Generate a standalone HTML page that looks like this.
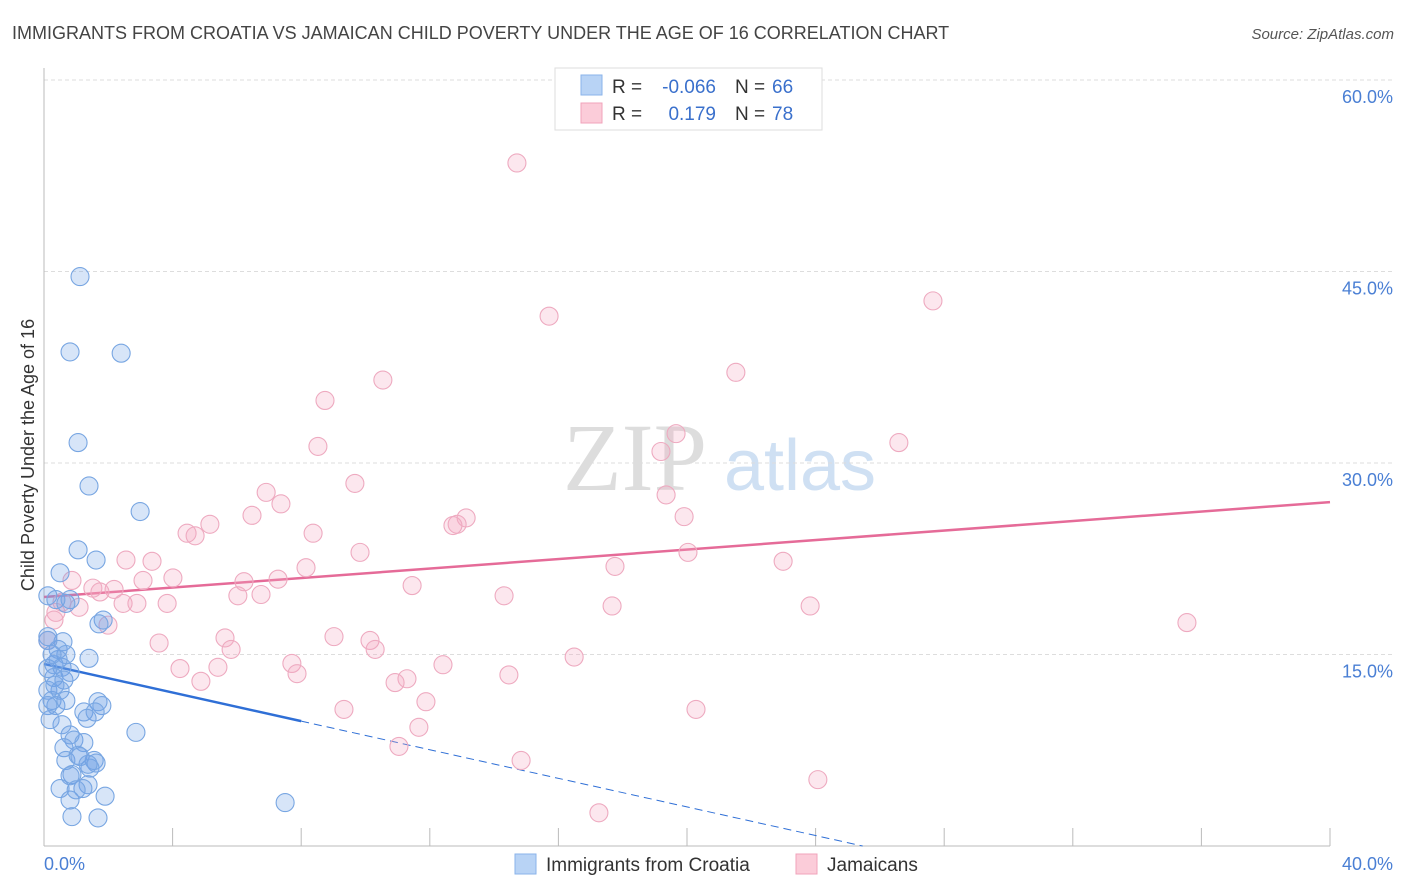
<!DOCTYPE html>
<html><head><meta charset="utf-8"><style>
body{margin:0;background:#fff;font-family:"Liberation Sans",sans-serif}
svg{display:block}
</style></head><body>
<svg id="c" width="1406" height="892" xmlns="http://www.w3.org/2000/svg">
<text x="12" y="39" font-size="18" fill="#444">IMMIGRANTS FROM CROATIA VS JAMAICAN CHILD POVERTY UNDER THE AGE OF 16 CORRELATION CHART</text>
<text x="1394" y="39" font-size="15" fill="#555" font-style="italic" text-anchor="end">Source: ZipAtlas.com</text>
<text transform="translate(34,455) rotate(-90)" font-size="18" fill="#333" text-anchor="middle">Child Poverty Under the Age of 16</text>
<g><text x="635" y="490" font-size="96" fill="#ddd" font-family="Liberation Serif" text-anchor="middle">ZIP</text><text x="800" y="490" font-size="72" fill="#cfe0f3" text-anchor="middle">atlas</text></g>
<g id="grid"></g><g id="axes"></g><g id="trend"></g><g id="pts"></g>
<g>
<rect x="555" y="68" width="267" height="62" fill="#fff" stroke="#ddd"/>
<rect x="581" y="75" width="21" height="20" fill="#b8d3f5" stroke="#8ab3ea"/>
<rect x="581" y="103" width="21" height="20" fill="#fbccd9" stroke="#f0a3bb"/>
<text x="612" y="93" font-size="19" fill="#333">R =</text>
<text x="716" y="93" font-size="19" fill="#3a70cc" text-anchor="end">-0.066</text>
<text x="735" y="93" font-size="19" fill="#333">N =</text>
<text x="772" y="93" font-size="19" fill="#3a70cc">66</text>
<text x="612" y="120" font-size="19" fill="#333">R =</text>
<text x="716" y="120" font-size="19" fill="#3a70cc" text-anchor="end">0.179</text>
<text x="735" y="120" font-size="19" fill="#333">N =</text>
<text x="772" y="120" font-size="19" fill="#3a70cc">78</text>
</g>
<g>
<rect x="515" y="854" width="21" height="20" fill="#b8d3f5" stroke="#8ab3ea"/>
<text x="546" y="871" font-size="19" fill="#333">Immigrants from Croatia</text>
<rect x="796" y="854" width="21" height="20" fill="#fbccd9" stroke="#f0a3bb"/>
<text x="827" y="871" font-size="19" fill="#333">Jamaicans</text>
</g>
</svg>
<script>
const yTicks=[15,30,45,60];
const yTickLabels=["15.0%","30.0%","45.0%","60.0%"];
const xTicks=[0,4,8,12,16,20,24,28,32,36,40];
const blueX=[1.12,0.81,2.40,1.06,1.40,2.99,1.06,1.62,0.50,0.12,0.81,0.37,0.68,1.84,1.71,0.59,0.12,0.44,0.68,1.40,0.31,0.56,0.81,0.12,0.31,0.62,0.12,0.50,0.25,0.37,0.12,1.68,1.80,1.24,1.59,1.34,2.86,0.56,0.81,0.93,0.62,1.24,0.68,1.06,1.56,1.62,1.43,0.87,0.81,1.37,1.21,0.50,1.90,0.81,0.87,1.68,7.50,0.12,0.34,0.19,1.12,0.68,0.44,1.37,1.00,0.25];
const blueY=[44.6,38.7,38.6,31.6,28.2,26.2,23.2,22.4,21.4,19.6,19.3,19.3,19.0,17.7,17.4,16.0,16.4,15.4,15.0,14.7,14.2,14.0,13.6,13.9,13.2,13.0,12.2,12.2,11.4,11.0,11.0,11.3,11.0,10.5,10.5,10.0,8.9,9.5,8.7,8.3,7.7,8.1,6.7,7.1,6.7,6.5,6.1,5.6,5.5,4.8,4.5,4.5,3.9,3.6,2.3,2.2,3.4,16.1,12.6,9.9,7.0,11.4,14.6,6.4,4.4,15.0];
const pinkX=[14.71,15.71,27.65,10.54,21.52,8.74,8.52,19.66,19.19,26.59,9.67,6.91,19.35,7.37,6.47,5.16,13.13,19.91,4.45,4.70,12.85,12.72,8.37,9.83,20.03,2.55,3.36,22.99,17.76,8.15,0.87,4.01,7.28,6.22,11.45,1.52,3.08,2.18,1.74,6.75,6.03,14.31,0.56,2.46,2.89,3.83,1.09,17.67,23.83,0.37,1.99,35.55,0.31,3.58,5.63,9.02,10.14,10.30,5.82,16.49,7.71,12.41,4.23,5.41,7.87,14.46,11.29,10.92,4.88,11.88,9.33,20.28,11.66,11.04,14.84,24.07,17.26,0.12];
const pinkY=[53.5,41.5,42.7,36.5,37.1,34.9,31.3,32.3,30.9,31.6,28.4,27.7,27.5,26.8,25.9,25.2,25.7,25.8,24.5,24.3,25.2,25.1,24.5,23.0,23.0,22.4,22.3,22.3,21.9,21.8,20.8,21.0,20.9,20.7,20.4,20.2,20.8,20.1,19.9,19.7,19.6,19.6,19.1,19.0,19.0,19.0,18.7,18.8,18.8,18.3,17.3,17.5,17.7,15.9,16.3,16.4,16.1,15.4,15.4,14.8,14.3,14.2,13.9,14.0,13.5,13.4,13.1,12.8,12.9,11.3,10.7,10.7,9.3,7.8,6.7,5.2,2.6,16.1];
const blueTrend=[14.26,-0.56]; // intercept, slope
const pinkTrend=[19.5,0.186];
const NS='http://www.w3.org/2000/svg';
const X=v=>44+v/40*1286, Y=v=>846-v/60*766;
function mk(p,t,a){const e=document.createElementNS(NS,t);for(const k in a)e.setAttribute(k,a[k]);p.appendChild(e);return e;}
const grid=document.getElementById('grid'),axes=document.getElementById('axes'),tr=document.getElementById('trend'),pts=document.getElementById('pts');
yTicks.forEach((t,i)=>{
 const l=mk(grid,'line',{x1:44,x2:1394,y1:Y(t),y2:Y(t),stroke:'#ddd','stroke-dasharray':'4,3'});
 
 
 const tx=mk(axes,'text',{x:1393,y:Y(t)+23,'font-size':18,fill:'#4a7fd4','text-anchor':'end'});
 tx.textContent=yTickLabels[i];
 
 
});
let a=mk(axes,'line',{x1:44,x2:44,y1:68,y2:846,stroke:'#bbb'});


a=mk(axes,'line',{x1:44,x2:1330,y1:846,y2:846,stroke:'#bbb'});


xTicks.forEach(t=>{const l=mk(axes,'line',{x1:X(t),x2:X(t),y1:828,y2:846,stroke:'#bbb'});
 
 });
let t0=mk(axes,'text',{x:44,y:870,'font-size':18,fill:'#4a7fd4'});t0.textContent='0.0%';


t0=mk(axes,'text',{x:1393,y:870,'font-size':18,fill:'#4a7fd4','text-anchor':'end'});t0.textContent='40.0%';


function dots(xs,ys,fill,stroke,name){xs.forEach((x,i)=>{const c=mk(pts,'circle',{cx:X(x),cy:Y(ys[i]),r:9,fill:fill,stroke:stroke,'stroke-width':1.1});
 
 });}
dots(pinkX,pinkY,'rgba(246,168,194,0.28)','#eeaac0','jamaican-point');
dots(blueX,blueY,'rgba(110,160,230,0.28)','#78a6e2','croatia-point');
const bY=x=>blueTrend[0]+blueTrend[1]*x, pY=x=>pinkTrend[0]+pinkTrend[1]*x;
let l=mk(tr,'line',{x1:X(0),y1:Y(bY(0)),x2:X(8),y2:Y(bY(8)),stroke:'#2f6fd6','stroke-width':2.5});


const xe=-blueTrend[0]/blueTrend[1];
l=mk(tr,'line',{x1:X(8),y1:Y(bY(8)),x2:X(xe),y2:Y(0),stroke:'#2f6fd6','stroke-width':1,'stroke-dasharray':'8,5'});


l=mk(tr,'line',{x1:X(0),y1:Y(pY(0)),x2:X(40),y2:Y(pY(40)),stroke:'#e56b98','stroke-width':2.5});


</script>
</body></html>
